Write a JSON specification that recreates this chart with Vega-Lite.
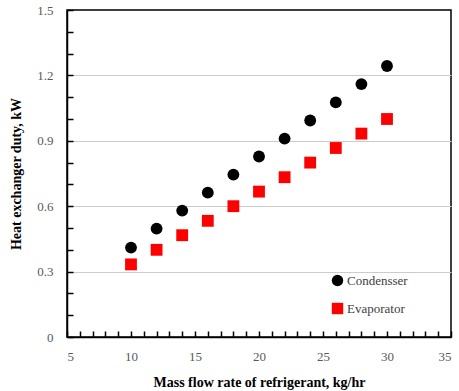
{
  "$schema": "https://vega.github.io/schema/vega-lite/v6.json",
  "width": 384,
  "height": 327,
  "autosize": {"type": "none"},
  "padding": {"left": 67, "top": 10, "right": 8, "bottom": 54},
  "background": "white",
  "config": {
    "view": {"stroke": "black", "strokeWidth": 1.5},
    "font": "Liberation Serif",
    "axis": {
      "titleFont": "Liberation Serif", "titleFontSize": 14, "titleFontWeight": "bold", "titleColor": "black",
      "labelFont": "Liberation Serif", "labelFontSize": 13, "labelColor": "#595959",
      "tickSize": -6, "tickColor": "black", "tickWidth": 1.5,
      "domainColor": "black", "domainWidth": 1.5
    }
  },
  "data": {
    "values": [
      {"flow": 10, "duty": 0.41, "series": "Condensser"},
      {"flow": 12, "duty": 0.497, "series": "Condensser"},
      {"flow": 14, "duty": 0.58, "series": "Condensser"},
      {"flow": 16, "duty": 0.662, "series": "Condensser"},
      {"flow": 18, "duty": 0.745, "series": "Condensser"},
      {"flow": 20, "duty": 0.828, "series": "Condensser"},
      {"flow": 22, "duty": 0.91, "series": "Condensser"},
      {"flow": 24, "duty": 0.993, "series": "Condensser"},
      {"flow": 26, "duty": 1.076, "series": "Condensser"},
      {"flow": 28, "duty": 1.16, "series": "Condensser"},
      {"flow": 30, "duty": 1.243, "series": "Condensser"},
      {"flow": 10, "duty": 0.333, "series": "Evaporator"},
      {"flow": 12, "duty": 0.4, "series": "Evaporator"},
      {"flow": 14, "duty": 0.467, "series": "Evaporator"},
      {"flow": 16, "duty": 0.533, "series": "Evaporator"},
      {"flow": 18, "duty": 0.6, "series": "Evaporator"},
      {"flow": 20, "duty": 0.667, "series": "Evaporator"},
      {"flow": 22, "duty": 0.733, "series": "Evaporator"},
      {"flow": 24, "duty": 0.8, "series": "Evaporator"},
      {"flow": 26, "duty": 0.867, "series": "Evaporator"},
      {"flow": 28, "duty": 0.933, "series": "Evaporator"},
      {"flow": 30, "duty": 1.0, "series": "Evaporator"}
    ]
  },
  "mark": {"type": "point", "filled": true, "opacity": 1, "size": 140},
  "encoding": {
    "x": {
      "field": "flow", "type": "quantitative",
      "scale": {"domain": [5, 35], "nice": false, "zero": false},
      "axis": {
        "title": "Mass flow rate of refrigerant, kg/hr",
        "titlePadding": 12,
        "values": [5,6,7,8,9,10,11,12,13,14,15,16,17,18,19,20,21,22,23,24,25,26,27,28,29,30,31,32,33,34,35],
        "labelExpr": "datum.value % 5 == 0 ? datum.label : ''",
        "format": "d",
        "labelPadding": 19,
        "grid": false
      }
    },
    "y": {
      "field": "duty", "type": "quantitative",
      "scale": {"domain": [0, 1.5], "nice": false},
      "axis": {
        "title": "Heat exchanger duty, kW",
        "titlePadding": 13,
        "values": [0,0.1,0.2,0.3,0.4,0.5,0.6,0.7,0.8,0.9,1.0,1.1,1.2,1.3,1.4,1.5],
        "labelExpr": "round(datum.value*10) % 3 == 0 ? datum.label : ''",
        "format": ".1~f",
        "labelPadding": 20,
        "grid": true, "gridColor": "#cccccc", "gridWidth": 1,
        "gridOpacity": {"condition": {"test": "round(datum.value*10) % 3 == 0 && datum.value > 0.05 && datum.value < 1.45", "value": 1}, "value": 0}
      }
    },
    "color": {
      "field": "series", "type": "nominal",
      "scale": {"domain": ["Condensser", "Evaporator"], "range": ["black", "#ff0000"]},
      "legend": {
        "title": null, "orient": "none", "legendX": 264, "legendY": 264,
        "labelFont": "Liberation Serif", "labelFontSize": 13, "labelColor": "#404040",
        "rowPadding": 14, "symbolSize": 130, "labelOffset": 3
      }
    },
    "shape": {
      "field": "series", "type": "nominal",
      "scale": {"domain": ["Condensser", "Evaporator"], "range": ["circle", "square"]},
      "legend": {
        "title": null, "orient": "none", "legendX": 264, "legendY": 264,
        "labelFont": "Liberation Serif", "labelFontSize": 13, "labelColor": "#404040",
        "rowPadding": 14, "symbolSize": 130, "labelOffset": 3
      }
    }
  }
}
